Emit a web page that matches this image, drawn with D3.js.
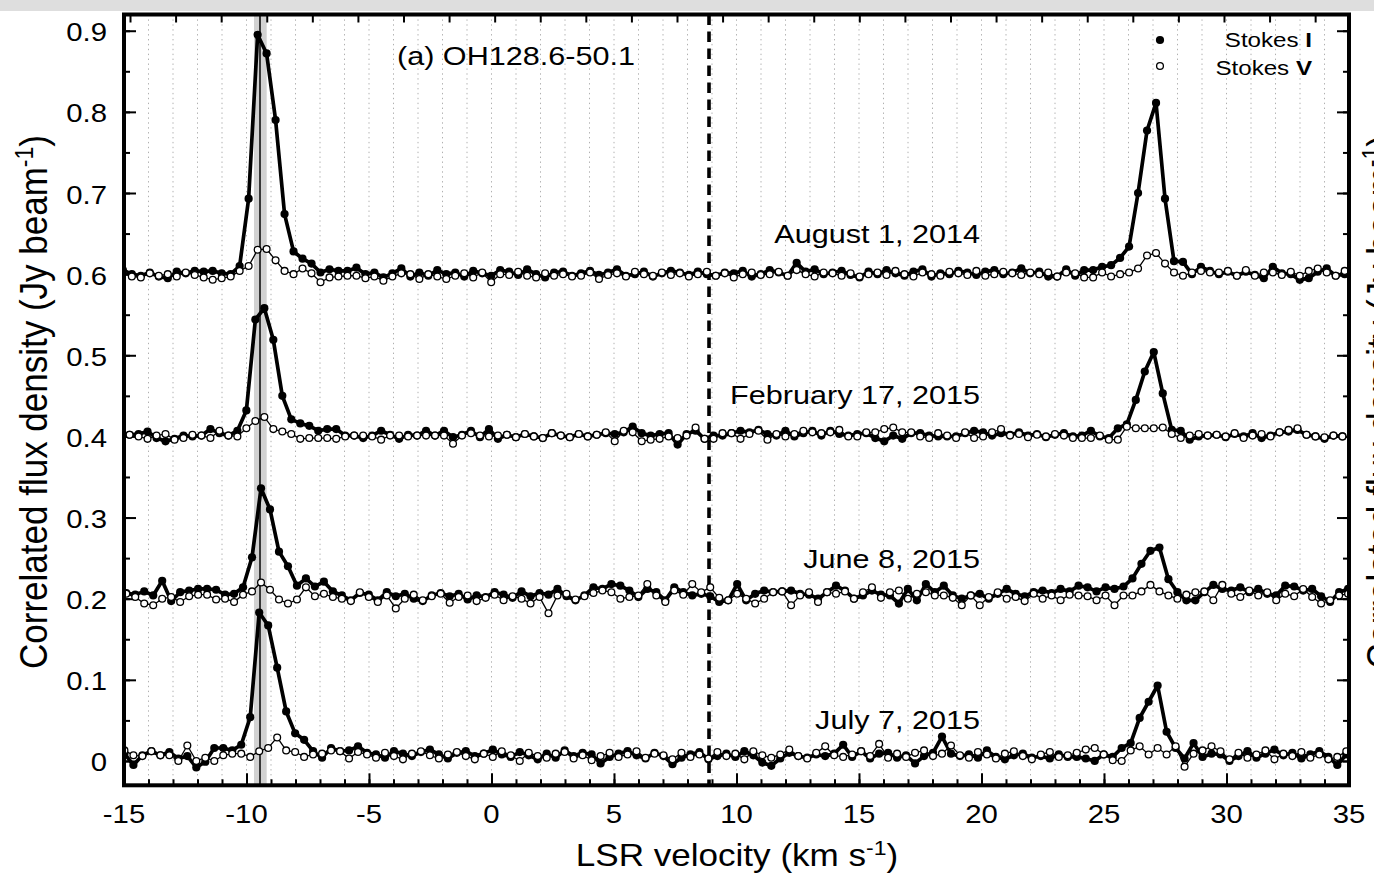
<!DOCTYPE html>
<html>
<head>
<meta charset="utf-8">
<script src="https://cdn.jsdelivr.net/npm/d3@7"></script>
<style>
body { margin: 0; background: #fff; overflow: hidden; }
text { font-family: "Liberation Sans", Arial, Helvetica, sans-serif; fill: #000; }
</style>
</head>
<body>
<div id="svg"></div>
<script>

// ---- data (flux in mJy above each spectrum's offset) ----

var epochs   = ["August 1, 2014", "February 17, 2015", "June 8, 2015", "July 7, 2015"];
var offsets  = [0.6, 0.4, 0.2, 0.0];
var vStart   = [-15.047, -15.139, -14.908, -14.982];   // first channel, km/s
var chanWidth = 0.3667;                                // km/s

var augI = [5, 0, -2, 2, -3, -5, 3, 1, 4, 3,
            4, 1, 0, 10, 93, 295, 272, 190, 74, 28,
            19, 13, 2, 6, 4, 4, 8, 0, 2, -4,
            1, 7, -3, 2, -2, 5, 0, 2, -3, 4,
            1, -2, 5, 3, -1, 6, 0, -4, 2, 3,
            -2, 1, 4, -1, 2, 6, -2, 0, 3, -3,
            1, 4, 2, -1, 3, 0, -2, 2, 1, 4,
            -3, 0, 5, 2, -2, 14, 3, 6, 0, 2,
            4, -1, -4, 3, 0, 5, 1, -2, 3, 6,
            -3, 1, 0, 4, 2, -1, 3, 5, 0, 2,
            7, 1, 3, -3, -3, 6, -2, 5, 5, 9,
            11, 20, 34, 100, 177, 211, 93, 16, 15, 0,
            9, 4, 0, 3, -2, 3, -1, -5, 9, 1,
            0, -7, -5, 3, 7, -2, 0];
var augV = [2, -3, -4, 1, -2, 0, -3, 2, -1, -4,
            -7, -5, -3, 4, 10, 30, 31, 17, 4, 0,
            7, 1, -10, -4, -3, -2, -2, -5, -3, -8,
            -3, 1, 0, -6, 0, -3, -6, -2, 1, -4,
            2, -10, 0, -1, 3, -2, -4, 1, -2, 0,
            -3, -2, 2, -6, -1, 1, -3, 3, 0, -2,
            2, -1, 1, -3, 0, 3, -2, 1, -4, 0,
            2, -1, 0, 3, -2, 5, 0, -3, 2, 1,
            -2, 1, -3, 0, 2, -1, 4, 0, -3, 2,
            0, -2, 3, 1, -1, 4, -2, 0, 3, 1,
            -1, 2, 0, 2, -3, 2, 1, -4, -4, 2,
            -3, 0, 2, 7, 23, 26, 13, 2, -2, 2,
            4, 2, 2, 4, -2, 5, -2, 2, 2, -1,
            3, -2, 4, 7, 2, -2, 4];
var febI = [0, 2, 3, 6, -2, -6, -3, 1, 0, 1,
            9, 4, 1, 7, 32, 144, 158, 119, 50, 21,
            16, 13, 7, 9, 9, 1, 1, -2, 1, 7,
            2, -3, 2, 1, 7, 1, 7, -1, 2, 7,
            -1, 9, -3, 2, -1, 3, 0, -2, 4, 1,
            -1, 3, 0, 2, 4, 3, 5, 12, 4, 1,
            3, 4, -10, 3, 7, -3, 1, 1, 4, 7,
            5, 8, 3, 1, 7, 0, 4, 7, 1, 7,
            3, 1, 3, 4, -2, -6, 1, -3, 4, 4,
            1, 0, 0, 0, 4, 7, 5, 1, 4, 2,
            5, 1, 3, -1, 2, 4, 0, 1, 7, 0,
            -2, 10, 15, 45, 80, 104, 53, 8, 7, -4,
            0, 1, 2, -1, 3, 0, 4, -2, 1, 5,
            6, 8, 2, 0, -3, 1, 0];
var febV = [-1, 2, 0, -3, 1, 3, -4, -2, 2, 1,
            -2, 7, 1, 0, 10, 19, 24, 9, 6, 3,
            -3, -2, -2, -2, -3, 0, 1, 1, 0, -4,
            1, 1, 0, 1, 1, 1, 1, -9, 1, 4,
            1, 0, 1, 2, -1, 3, 0, -2, 4, 1,
            -1, 3, 0, 2, 5, -6, 7, 5, -6, -4,
            -3, 0, -2, 1, 11, -3, -3, 4, 4, -3,
            3, 7, -4, 3, 0, 3, 7, 5, 4, 5,
            8, 0, 0, 5, 5, 9, 11, 5, 5, 0,
            -2, 4, 1, -2, 5, -2, 0, 5, 9, 1,
            3, -1, 2, 0, 3, 1, -2, -2, -2, 1,
            -4, -4, 12, 10, 10, 10, 11, 3, -2, 1,
            3, 1, 2, 0, 4, -2, 1, 3, 0, 5,
            8, 10, 2, 0, -1, 1, 0];
var junI = [7, 5, 9, 4, 22, -3, 8, 10, 12, 12,
            11, 5, 6, 14, 51, 136, 110, 58, 40, 16,
            25, 15, 21, 9, 4, -2, 7, 5, -2, 8,
            3, 6, 0, -3, 4, 7, 3, 6, -1, 4,
            2, 8, 5, 1, 9, 3, 7, 5, 12, 3,
            -2, 4, 14, 12, 18, 16, 10, 2, 12, 8,
            -2, 14, 8, 4, 6, 3, -4, -2, 18, -2,
            6, 10, 8, 9, 10, 6, 5, 0, 8, 16,
            10, 0, 4, 10, 5, 4, -6, 12, -2, 18,
            8, 16, 4, 0, 4, 6, 0, 6, 12, 6,
            3, 8, 10, 7, 12, 9, 16, 14, 9, 14,
            12, 15, 25, 43, 59, 63, 24, 8, -2, -2,
            8, 17, 12, 10, 14, 8, 12, 6, 4, 16,
            15, 10, 12, 3, -4, 8, 12];
var junV = [6, 2, -6, -8, 0, 2, -4, 3, 5, 5,
            -1, 0, -4, 5, 9, 20, 11, -1, -6, -1,
            14, 3, 6, 2, 0, -3, 8, 2, -4, 4,
            -12, 0, 5, -2, 3, 6, -5, 2, 4, -3,
            1, 5, -2, 3, 0, -6, 2, -18, 4, 6,
            -1, 3, 7, 10, 8, 0, 2, 4, 18, 4,
            -4, 10, 5, 18, 8, 14, 1, -2, 6, 0,
            -6, 0, 8, 9, -8, 4, 8, -4, 8, 6,
            9, 0, 8, 14, 1, 8, 10, 0, 6, 8,
            4, 4, 1, -8, 4, -8, 2, 8, 0, 2,
            -3, 6, 0, 4, -2, 5, 4, 3, -2, 4,
            -8, 4, 4, 9, 17, 9, 4, 0, 5, 8,
            9, -2, 17, 6, 2, 10, 4, 8, -2, 6,
            3, 12, 2, -6, -2, 4, 6];
var julI = [9, -5, 7, 12, 7, 11, 3, 6, -8, -1,
            16, 16, 13, 20, 54, 183, 167, 115, 61, 34,
            26, 12, 4, 16, 12, 13, 18, 10, 8, 4,
            12, 9, 6, 11, 14, 8, 3, 10, 12, 6,
            9, 14, 8, 5, 11, 7, 2, 9, 4, 13,
            6, 10, 8, -3, 5, 9, 12, 7, 3, 10,
            6, -4, 4, 8, 11, 2, 6, 9, 5, 12,
            7, -2, -6, 3, 10, 6, 4, 8, 6, 9,
            20, 5, 12, 3, 9, 10, 4, 7, -3, 6,
            10, 30, 9, 6, 8, 4, 13, 5, 2, 7,
            9, 4, 6, 3, 8, 5, 5, 3, 0, 8,
            5, 16, 22, 53, 73, 93, 36, 16, 3, 22,
            5, 9, 8, 0, 6, 12, 4, 9, 14, 7,
            10, 3, 8, 12, 5, -5, 8];
var julV = [13, 7, 6, 12, 7, 7, 0, 19, 0, 4,
            0, 7, 9, 9, 5, 12, 16, 29, 13, 11,
            5, 8, 9, 13, 12, 3, 11, 8, 4, 10,
            6, 2, 9, 12, 7, 3, 8, 11, 6, 2,
            9, 5, 12, 7, 0, 10, 6, 4, 9, 11,
            3, 7, 1, 6, 10, 5, 8, 12, 4, 9,
            7, 2, 10, 5, 8, 3, 11, 6, 9, 2,
            12, 7, 4, 8, 14, 6, 3, 10, 18, 7,
            5, 8, 12, 6, 21, 4, 9, 5, 10, 13,
            6, 9, 19, 7, 4, 11, 8, 3, 9, 12,
            6, 2, 8, 11, 5, 7, 10, 14, 16, 8,
            1, 0, 13, 18, 8, 16, 8, 18, -7, 9,
            13, 18, 12, 2, 10, 4, 8, 13, 2, 9,
            6, 11, 4, 8, 2, 5, 12];

var seriesI = [augI, febI, junI, julI];
var seriesV = [augV, febV, junV, julV];

var yTicks = [0, 0.1, 0.2, 0.3, 0.4, 0.5, 0.6, 0.7, 0.8, 0.9];
var xTicks = [-15, -10, -5, 0, 5, 10, 15, 20, 25, 30, 35];

var peakBand = [-9.694, -9.176];   // shaded velocity range
var peakLine = -9.449;
var starVel  = 8.878;              // dashed line

// ---- layout ----

var W = 1374, H = 874;
var plot = {left: 124, right: 1349, top: 14.5, bot: 785.3};
var stretch = 1.15;   // glyphs in the picture are wider than tall

var x = d3.scaleLinear().domain([-15, 35]).range([plot.left, plot.right]);
var y = d3.scaleLinear().domain([-0.03, 0.92]).range([plot.bot, plot.top]);

var svg = d3.select("#svg").append("svg")
    .attr("width", W)
    .attr("height", H);

svg.append("rect")
    .attr("x", 0).attr("y", 0)
    .attr("width", W).attr("height", 11)
    .attr("fill", "#dedede");

svg.append("defs").append("clipPath")
    .attr("id", "clip")
    .append("rect")
    .attr("x", plot.left).attr("y", plot.top)
    .attr("width", plot.right - plot.left)
    .attr("height", plot.bot - plot.top);

function wideText(g, px, py, str, size, anchor) {
    return g.append("text")
        .attr("transform", "translate(" + px + "," + py + ") scale(" + stretch + ",1)")
        .attr("text-anchor", anchor)
        .attr("font-size", size)
        .text(str);
}

// dotted grid, one line per km/s
var gridV = d3.range(-14, 35, 1);
svg.append("g").selectAll("line")
    .data(gridV)
    .join("line")
    .attr("x1", d => x(d)).attr("x2", d => x(d))
    .attr("y1", plot.top).attr("y2", plot.bot)
    .attr("stroke", "#b0b0b0")
    .attr("stroke-width", 1)
    .attr("stroke-dasharray", "1.4,3.5");

// shaded band and the line in it
svg.append("rect")
    .attr("x", x(peakBand[0]))
    .attr("y", plot.top)
    .attr("width", x(peakBand[1]) - x(peakBand[0]))
    .attr("height", plot.bot - plot.top)
    .attr("fill", "#d2d2d2");
svg.append("line")
    .attr("x1", x(peakLine)).attr("x2", x(peakLine))
    .attr("y1", plot.top).attr("y2", plot.bot)
    .attr("stroke", "#111")
    .attr("stroke-width", 1.6);

svg.append("line")
    .attr("x1", x(starVel)).attr("x2", x(starVel))
    .attr("y1", plot.top).attr("y2", plot.bot)
    .attr("stroke", "#000")
    .attr("stroke-width", 3.6)
    .attr("stroke-dasharray", "10.5,6.5");

// ---- axes (ticks inward, labels drawn separately) ----

var minorY = d3.range(0, 0.95, 0.05);
var minorX = d3.range(-15, 35.5, 1);

function tickOnly(axis, g) {
    g.call(axis);
    g.select(".domain").remove();
    g.selectAll("line").attr("stroke", "#000").attr("stroke-width", 2);
}

tickOnly(d3.axisLeft(y).tickValues(minorY).tickSize(-6).tickFormat(""),
         svg.append("g").attr("transform", "translate(" + plot.left + ",0)"));
tickOnly(d3.axisLeft(y).tickValues(yTicks).tickSize(-12).tickFormat(""),
         svg.append("g").attr("transform", "translate(" + plot.left + ",0)"));
tickOnly(d3.axisRight(y).tickValues(minorY).tickSize(-6).tickFormat(""),
         svg.append("g").attr("transform", "translate(" + plot.right + ",0)"));
tickOnly(d3.axisRight(y).tickValues(yTicks).tickSize(-12).tickFormat(""),
         svg.append("g").attr("transform", "translate(" + plot.right + ",0)"));
tickOnly(d3.axisBottom(x).tickValues(minorX).tickSize(-6).tickFormat(""),
         svg.append("g").attr("transform", "translate(0," + plot.bot + ")"));
tickOnly(d3.axisBottom(x).tickValues(xTicks).tickSize(-12).tickFormat(""),
         svg.append("g").attr("transform", "translate(0," + plot.bot + ")"));

// top axis is in frequency: one tick every ~1.86 km/s
var topTicks = d3.range(-14.755, 35, 1.8605);
tickOnly(d3.axisTop(x).tickValues(topTicks).tickSize(-8).tickFormat(""),
         svg.append("g").attr("transform", "translate(0," + plot.top + ")"));

var lab = svg.append("g");
yTicks.forEach(function(t) {
    wideText(lab, 107, y(t) + 10.5, t === 0 ? "0" : d3.format(".1f")(t), 25.5, "end");
});
xTicks.forEach(function(t) {
    wideText(lab, x(t), 823, String(t), 25.5, "middle");
});

// ---- spectra ----

var dataG = svg.append("g").attr("clip-path", "url(#clip)");

function points(arr, e) {
    return arr.map(function(v, k) {
        return {v: vStart[e] + k * chanWidth, f: offsets[e] + v / 1000};
    });
}

var line = d3.line().x(d => x(d.v)).y(d => y(d.f));

seriesI.forEach(function(arr, e) {
    var pts = points(arr, e);
    var g = dataG.append("g").attr("class", "stokesI");
    g.append("path")
        .attr("d", line(pts))
        .attr("fill", "none")
        .attr("stroke", "#000")
        .attr("stroke-width", 3.7)
        .attr("stroke-linejoin", "round");
    g.selectAll("circle")
        .data(pts)
        .join("circle")
        .attr("cx", d => x(d.v)).attr("cy", d => y(d.f))
        .attr("r", 4.1)
        .attr("fill", "#000");
});

seriesV.forEach(function(arr, e) {
    var pts = points(arr, e);
    var g = dataG.append("g").attr("class", "stokesV");
    g.append("path")
        .attr("d", line(pts))
        .attr("fill", "none")
        .attr("stroke", "#000")
        .attr("stroke-width", 1.3);
    g.selectAll("circle")
        .data(pts)
        .join("circle")
        .attr("cx", d => x(d.v)).attr("cy", d => y(d.f))
        .attr("r", 3.4)
        .attr("fill", "#fff")
        .attr("stroke", "#000")
        .attr("stroke-width", 1.3);
});

// frame on top
svg.append("rect")
    .attr("x", plot.left).attr("y", plot.top)
    .attr("width", plot.right - plot.left)
    .attr("height", plot.bot - plot.top)
    .attr("fill", "none")
    .attr("stroke", "#000")
    .attr("stroke-width", 4);

// ---- texts ----

var labelBase = [243, 404, 568, 729];
epochs.forEach(function(name, e) {
    wideText(svg, 980, labelBase[e], name, 26.6, "end");
});

wideText(svg, 397, 65, "(a) OH128.6-50.1", 26.6, "start");

// legend
svg.append("circle").attr("cx", 1160).attr("cy", 40).attr("r", 4.1).attr("fill", "#000");
svg.append("circle").attr("cx", 1160).attr("cy", 66).attr("r", 3.4)
    .attr("fill", "#fff").attr("stroke", "#000").attr("stroke-width", 1.3);
var l1 = wideText(svg, 1312, 47, "Stokes ", 21, "end");
l1.append("tspan").attr("font-weight", "bold").text("I");
var l2 = wideText(svg, 1312, 75, "Stokes ", 21, "end");
l2.append("tspan").attr("font-weight", "bold").text("V");

// axis titles
var xt = wideText(svg, 737, 866, "LSR velocity (km s", 30.5, "middle");
xt.append("tspan").attr("font-size", 20).attr("dy", -11).text("-1");
xt.append("tspan").attr("dy", 11).text(")");

function yTitle(px) {
    var t = svg.append("text")
        .attr("transform", "translate(" + px + ",402) rotate(-90) scale(1,1.1)")
        .attr("text-anchor", "middle")
        .attr("font-size", 35)
        .text("Correlated flux density (Jy beam");
    t.append("tspan").attr("font-size", 23).attr("dy", -13).text("-1");
    t.append("tspan").attr("dy", 13).text(")");
}
yTitle(47);
yTitle(1394);   // next panel's title, cut at the page edge

</script>
</body>
</html>
